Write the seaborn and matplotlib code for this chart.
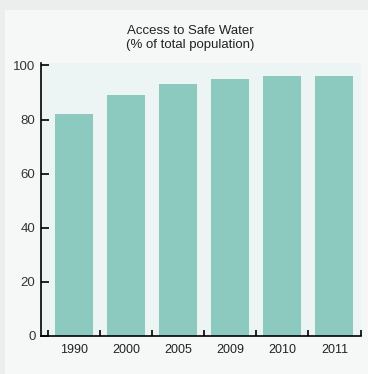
import matplotlib
matplotlib.use("Agg")
import matplotlib.pyplot as plt
import seaborn as sns
import pandas as pd
from matplotlib.patches import Rectangle

years = ["1990", "2000", "2005", "2009", "2010", "2011"]
access = [82, 89, 93, 95, 96, 96]

sns.set_style("white")
plt.rcParams["font.family"] = ["Liberation Sans", "DejaVu Sans"]

df = pd.DataFrame({"Year": years, "Access": access})

W, H = 368, 374
fig = plt.figure(figsize=(W / 100, H / 100), dpi=100)
fig.patch.set_facecolor("#eceeed")
# light card behind the chart
fig.patches.append(Rectangle((5 / W, 0), 1, 1 - 10 / H, transform=fig.transFigure,
                             facecolor="#f6f8f7", edgecolor="none", zorder=-5))

ax = fig.add_axes([41 / W, 38 / H, 319.5 / W, 273 / H])
ax.set_zorder(2)
ax.set_facecolor("#ecf5f3")

sns.barplot(data=df, x="Year", y="Access", color="#8cc9bf", saturation=1,
            width=0.73, linewidth=0, ax=ax)

ax.set_xlim(-0.635, 5.5)
ax.set_ylim(0, 100.9)
ax.set_yticks([0, 20, 40, 60, 80, 100])
ax.set_xlabel("")
ax.set_ylabel("")

sns.despine(ax=ax)
for s in ["left", "bottom"]:
    ax.spines[s].set_color("black")
    ax.spines[s].set_linewidth(1.2)

ax.tick_params(axis="y", left=True, direction="in", length=6, width=1.2,
               color="black", pad=4, labelsize=9.5, labelcolor="#333333")
ax.tick_params(axis="x", which="major", bottom=True, length=0, pad=6,
               labelsize=9, labelcolor="#222222")
ax.set_xticks([i - 0.5 for i in range(7)], minor=True)
ax.tick_params(axis="x", which="minor", bottom=True, direction="in", length=4.5,
               width=1.2, color="black")
ax.grid(False)

fig.text(190 / W, 1 - 38 / H, "Access to Safe Water\n(% of total population)",
         ha="center", va="center", fontsize=9.5, color="#222222", linespacing=1.3)

fig.savefig("out.png", dpi=100, facecolor=fig.get_facecolor())
